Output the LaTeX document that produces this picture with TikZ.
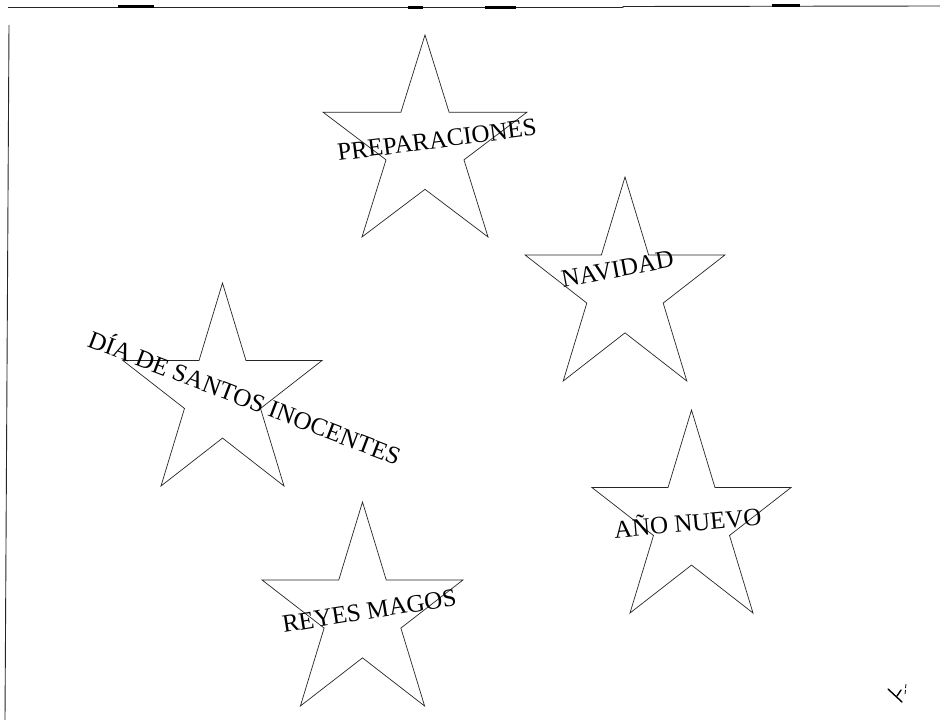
\documentclass[tikz,border=0pt]{standalone}
\usepackage{fontspec}
\setmainfont{Liberation Serif}
\tikzset{
  starline/.style={draw=black!85, line width=0.7pt, line join=miter},
  framel/.style={draw=black!85, line width=0.9pt},
  framethick/.style={draw=black, line width=2.4pt},
  lbl/.style={font=\fontsize{25}{28}\selectfont, inner sep=0pt, anchor=base, text=black},
  scribble/.style={draw=black, line width=1.4pt, line cap=round}
}
\newcommand\pentastar[4]{%
  \draw[starline, shift={(#1,#2)}, xscale=#3, yscale=#4]
    (0.5,0) -- (0.618,0.382) -- (1,0.382) -- (0.691,0.618) -- (0.809,1)
    -- (0.5,0.764) -- (0.191,1) -- (0.309,0.618) -- (0,0.382) -- (0.382,0.382) -- cycle;}
\begin{document}
\begin{tikzpicture}[x=1pt, y=-1pt]
\useasboundingbox[fill=white] (0,0) rectangle (940,720);
% scanned frame
\draw[framel] (8,7.5) -- (623,7.5) -- (623,6.5) -- (940,6);
\draw[framethick] (118,6.5) -- (154,6.5);
\draw[framethick] (408,7.5) -- (423,7.5);
\draw[framethick] (485,7.5) -- (516,7.5);
\draw[framethick] (772,5.5) -- (800,5.5);
\draw[framel] (9,25) -- (5,720);
% stars
\pentastar{323}{35}{204}{202}
\pentastar{525}{177}{200}{204}
\pentastar{123}{283}{199}{203}
\pentastar{592}{410}{199}{203}
\pentastar{262}{502}{201}{204}
% labels
\node[lbl, rotate=7.4] (prep) at (438,148) {PREPARACIONES};
\node[lbl, rotate=10.5] (nav) at (619,277) {NAVIDAD};
\node[lbl, rotate=-21] (dia) at (241.5,406) {DÍA DE SANTOS INOCENTES};
\node[lbl, rotate=5.2] (ano) at (688.5,531.5) {AÑO NUEVO};
\node[lbl, rotate=9.1] (reyes) at (370.5,619) {REYES MAGOS};
% small mark
\draw[scribble] (888,689) -- (902,702);
\draw[scribble] (897,696) -- (901,690);
\draw[black, line width=0.8pt] (906,684) -- (905.5,688);
\draw[black, line width=0.8pt] (905.5,690) -- (905,694);
\end{tikzpicture}
\end{document}
